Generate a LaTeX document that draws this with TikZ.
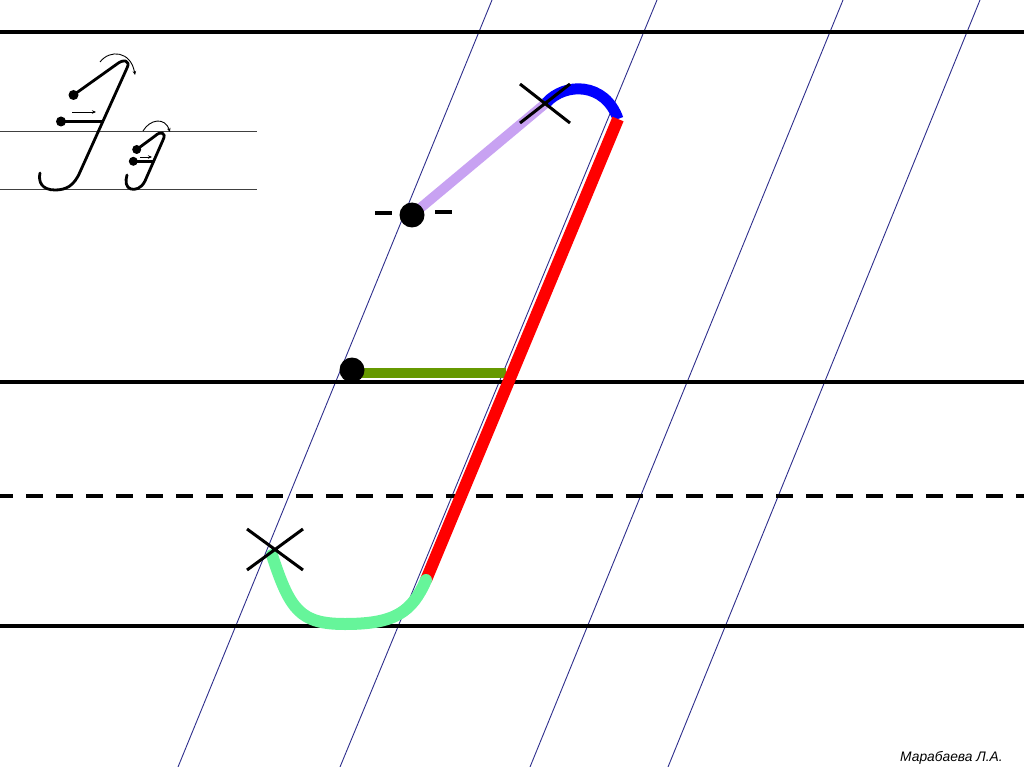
\documentclass[tikz,border=0pt]{standalone}
\usepackage{fontspec}
\setmainfont{Liberation Sans}
\usetikzlibrary{arrows.meta}
\definecolor{lilac}{HTML}{C8A2F2}
\definecolor{inkblue}{HTML}{0000FF}
\definecolor{inkred}{HTML}{FF0000}
\definecolor{mint}{HTML}{66F59A}
\definecolor{leaf}{HTML}{669900}
\definecolor{navyline}{HTML}{2E2E8C}

\begin{document}
\begin{tikzpicture}[x=1pt, y=-1pt,
  rule/.style={black, line width=4pt},
  guide/.style={navyline, line width=0.9pt},
  cross/.style={black, line width=3pt},
  pen/.style={black, line width=2.8pt, line cap=round, line join=round},
  hint/.style={black, line width=0.9pt, -{Stealth[length=4pt,width=3.5pt]}}]
  \useasboundingbox (0,0) rectangle (1024,767);

  % Slanted guide lines
  \foreach \xt/\xb in {492/178, 657/340, 843/530, 980/668}
    \draw[guide] (\xt,0) -- (\xb,767);

  % Ruled lines
  \draw[rule] (0,32) -- (1024,32);
  \draw[rule] (0,382) -- (1024,382);
  \draw[rule, dash pattern=on 16.7pt off 13.3pt, dash phase=3.7pt] (0,496) -- (1024,496);
  \draw[rule] (0,626) -- (1024,626);

  % Key points of the letter
  \coordinate (start) at (412,215);
  \coordinate (turn) at (546,103);
  \coordinate (top) at (618,119);
  \coordinate (foot) at (426,580);
  \coordinate (tail) at (272,555);
  \coordinate (bar) at (352,370);
  \coordinate (barend) at (506,373);
  \coordinate (turnmark) at (545,103);
  \coordinate (tailmark) at (275,550);

  % Strokes, in writing order
  \draw[lilac, line width=10pt] (start) -- (turn);
  \draw[inkblue, line width=11pt] (turn) .. controls (565,82) and (605,82) .. (top);
  \draw[leaf, line width=10pt] (352,373) -- (barend);
  \draw[inkred, line width=12pt] (top) -- (foot);
  \draw[mint, line width=12pt, line cap=round] (foot) .. controls (412,612) and (395,624) .. (345,624)
    .. controls (300,624) and (290,610) .. (tail);

  % Start dots
  \fill[black] (start) circle (12.5pt);
  \draw[black, line width=4pt] (375,213) -- (392,213) (435,212) -- (452,212);
  \fill[black] (bar) circle (12.5pt);

  % Crosses
  \draw[cross] (turnmark) ++(-25,-19) -- ++(50,39) (turnmark) ++(-25,20) -- ++(50,-39);
  \draw[cross] (tailmark) ++(-28,-21) -- ++(56,41) (tailmark) ++(-28,20) -- ++(56,-41);

  % Sample letters, top left
  \draw[black!75, line width=1pt] (0,132) -- (257,132) (0,189.5) -- (257,189.5);
  % capital
  \fill[black] (73.5,95) circle (5pt);
  \draw[pen] (73.5,95) -- (117,64) .. controls (123,59) and (131,60) .. (127,68) -- (80,172)
    .. controls (74,186) and (66,190) .. (55,190) .. controls (42,190) and (38,182) .. (40,173);
  \fill[black] (61,121.5) circle (5pt);
  \draw[pen] (61,121.5) -- (102,121.5);
  \draw[hint] (72,112) -- (96,112);
  \draw[hint] (100,62) .. controls (110,49) and (131,51) .. (135,75);
  % small
  \fill[black] (136.7,149.5) circle (4.5pt);
  \draw[pen] (136.7,149.5) -- (155,136) .. controls (160,131) and (167,132) .. (163,140) -- (145,181)
    .. controls (141,189) and (135,190) .. (131,189) .. controls (126,188) and (125,181) .. (127,175);
  \fill[black] (133.3,161.3) circle (4.5pt);
  \draw[pen] (133.3,161.3) -- (153,161.3);
  \draw[hint] (140,157) -- (152,157);
  \draw[hint] (143,131) .. controls (150,119) and (165,117) .. (170,132);

  % Author
  \node[anchor=base west, inner sep=0pt, font=\fontsize{13.8}{15}\selectfont\itshape] (author)
    at (900,761) {Марабаева Л.А.};
\end{tikzpicture}
\end{document}
